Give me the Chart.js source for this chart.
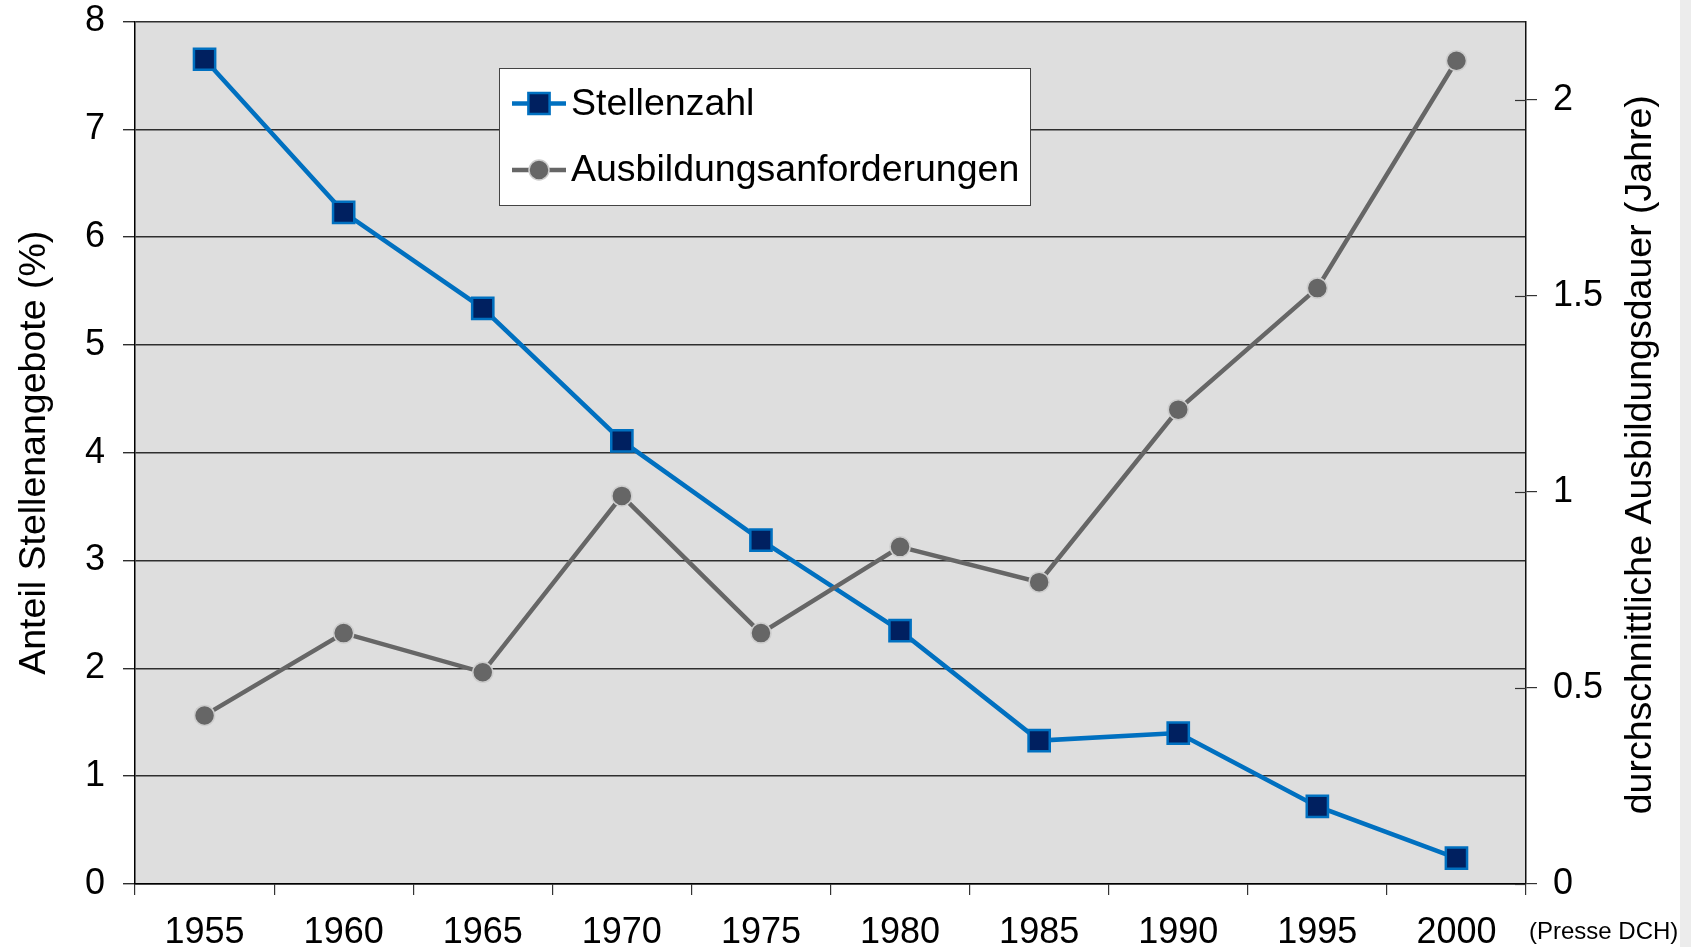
<!DOCTYPE html>
<html>
<head>
<meta charset="utf-8">
<script src="https://cdn.jsdelivr.net/npm/chart.js@4.4.0/dist/chart.umd.min.js"></script>
<style>
  html, body { margin: 0; padding: 0; }
  body { width: 1691px; height: 947px; overflow: hidden; background: linear-gradient(to right, #fff 1680px, #ececec 1680px); }
  canvas { position: absolute; left: 0; top: 0; }
</style>
</head>
<body>
<canvas id="chart" width="1691" height="947"></canvas>
<script>
var jahre = ["1955", "1960", "1965", "1970", "1975", "1980", "1985", "1990", "1995", "2000"];
var stellenzahl = [7.65, 6.23, 5.34, 4.11, 3.19, 2.35, 1.33, 1.40, 0.72, 0.24];
var ausbildung = [0.43, 0.64, 0.54, 0.99, 0.64, 0.86, 0.77, 1.21, 1.52, 2.10];
var linksTicks = [0, 1, 2, 3, 4, 5, 6, 7, 8];
var rechtsTicks = [0, 0.5, 1, 1.5, 2];

var schrift = "'Liberation Sans', Arial, sans-serif";
Chart.defaults.font.family = schrift;
Chart.defaults.color = "#000";

// Hintergrund, Legende, rechter Titel und Quelle
var extras = {
  id: "extras",
  beforeDraw: function(chart) {
    var a = chart.chartArea, ctx = chart.ctx;
    ctx.save();
    ctx.fillStyle = "#dedede";
    ctx.fillRect(a.left, a.top, a.right - a.left, a.bottom - a.top);
    ctx.restore();
  },
  afterDraw: function(chart) {
    var ctx = chart.ctx, a = chart.chartArea;
    var y2 = chart.scales.y2;
    ctx.save();
    // Ticks rechts nach innen
    ctx.strokeStyle = "#333";
    ctx.lineWidth = 1.2;
    rechtsTicks.forEach(function(v) {
      var py = Math.round(y2.getPixelForValue(v)) + 0.5;
      ctx.beginPath();
      ctx.moveTo(a.right - 11, py);
      ctx.lineTo(a.right, py);
      ctx.stroke();
    });

    // Legende
    var bx = 499, by = 68, bw = 531, bh = 137;
    ctx.fillStyle = "#fff";
    ctx.fillRect(bx, by, bw, bh);
    ctx.strokeStyle = "#444";
    ctx.lineWidth = 1;
    ctx.strokeRect(bx + 0.5, by + 0.5, bw, bh);
    var zeilen = [103.5, 170];
    chart.data.datasets.forEach(function(ds, i) {
      var ly = zeilen[i];
      ctx.strokeStyle = ds.borderColor;
      ctx.lineWidth = ds.borderWidth;
      ctx.beginPath();
      ctx.moveTo(512, ly);
      ctx.lineTo(566, ly);
      ctx.stroke();
      ctx.fillStyle = ds.backgroundColor;
      ctx.strokeStyle = ds.pointBorderColor;
      ctx.lineWidth = ds.pointBorderWidth;
      Chart.helpers.drawPoint(ctx, { pointStyle: ds.pointStyle, radius: ds.pointRadius, borderWidth: ds.pointBorderWidth }, 539, ly);
      ctx.fillStyle = "#000";
      ctx.font = "37.5px " + schrift;
      ctx.textBaseline = "middle";
      ctx.textAlign = "left";
      ctx.fillText(ds.label, 571, ly + 1);
    });

    // rechter Achsentitel
    ctx.translate(1641, (a.top + a.bottom) / 2 + 2);
    ctx.rotate(-Math.PI / 2);
    ctx.font = "37.5px " + schrift;
    ctx.textAlign = "center";
    ctx.textBaseline = "middle";
    ctx.fillText("durchschnittliche Ausbildungsdauer (Jahre)", 0, 0);
    ctx.restore();

    ctx.save();
    ctx.font = "24px " + schrift;
    ctx.fillStyle = "#000";
    ctx.textBaseline = "middle";
    ctx.textAlign = "left";
    ctx.fillText("(Presse DCH)", 1529, 932);
    ctx.restore();
  }
};

function ohnePolster(scale) {
  scale.paddingTop = 0;
  scale.paddingBottom = 0;
  scale.paddingLeft = 0;
  scale.paddingRight = 0;
}

new Chart(document.getElementById("chart"), {
  type: "line",
  data: {
    labels: jahre,
    datasets: [{
      label: "Stellenzahl",
      data: stellenzahl,
      yAxisID: "y",
      borderColor: "#0070c0",
      borderWidth: 4.5,
      backgroundColor: "#002060",
      pointStyle: "rect",
      pointRadius: 15,
      pointHoverRadius: 15,
      pointBorderColor: "#0070c0",
      pointBorderWidth: 2.5,
      order: 2
    }, {
      label: "Ausbildungsanforderungen",
      data: ausbildung,
      yAxisID: "y2",
      borderColor: "#666666",
      borderWidth: 4.5,
      backgroundColor: "#666666",
      pointStyle: "circle",
      pointRadius: 10,
      pointHoverRadius: 10,
      pointBorderColor: "#cdcdcd",
      pointBorderWidth: 1.5,
      order: 1
    }]
  },
  options: {
    responsive: false,
    animation: false,
    layout: { padding: { top: 21.5, left: 0, right: 0, bottom: 0 } },
    plugins: {
      legend: { display: false },
      tooltip: { enabled: false }
    },
    scales: {
      x: {
        offset: true,
        grid: { offset: true, drawOnChartArea: false, tickLength: 11, color: "#333", lineWidth: 1.2 },
        border: { color: "#000", width: 1.5 },
        ticks: { font: { size: 36 }, padding: 16, maxRotation: 0, color: "#000" },
        afterFit: function(scale) { scale.height = 63; ohnePolster(scale); }
      },
      y: {
        position: "left",
        min: 0,
        max: 8,
        afterBuildTicks: function(scale) { scale.ticks = linksTicks.map(function(v) { return { value: v }; }); },
        ticks: { font: { size: 36 }, padding: 18, color: "#000" },
        grid: { color: "#2e2e2e", lineWidth: 1.4, tickLength: 12 },
        border: { color: "#000", width: 1.5 },
        title: { display: true, text: "Anteil Stellenangebote (%)", font: { size: 37.5 }, padding: { top: 12, bottom: 0 }, color: "#000" },
        afterFit: function(scale) { scale.width = 135; ohnePolster(scale); }
      },
      y2: {
        position: "right",
        min: 0,
        max: 2.2,
        afterBuildTicks: function(scale) { scale.ticks = rechtsTicks.map(function(v) { return { value: v }; }); },
        ticks: { font: { size: 36 }, padding: 16, color: "#000", callback: function(value) { return String(value); } },
        grid: { drawOnChartArea: false, tickLength: 11, color: "#333", lineWidth: 1.2 },
        border: { color: "#111", width: 1.5 },
        afterFit: function(scale) { scale.width = 165; ohnePolster(scale); }
      }
    }
  },
  plugins: [extras]
});
</script>
</body>
</html>
